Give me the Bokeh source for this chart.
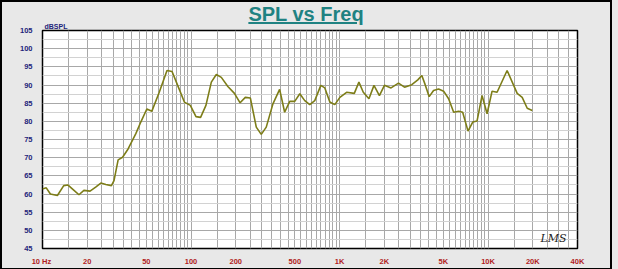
from bokeh.plotting import figure
from bokeh.models import Range1d, FixedTicker, Label, Div, InlineStyleSheet
from bokeh.layouts import column
from bokeh.embed import file_html
from bokeh.resources import INLINE

# ---- data ----
freq = [10, 10.6, 11.3, 12.6, 13.9, 14.8, 16.3, 17.6, 19.0, 20.9,
        22.8, 24.7, 26.7, 29.1, 30.3, 32.3, 34.6, 37.7, 42.5, 45.9,
        50.4, 54.5, 61.1, 68.9, 74.5, 81.3, 90.2, 98.9, 108, 116,
        126, 137, 148, 160, 177, 196, 214, 232, 251, 275,
        297, 321, 356, 395, 427, 462, 499, 540, 583, 630,
        681, 748, 796, 860, 929, 1005, 1115, 1257, 1350, 1445,
        1577, 1705, 1855, 2005, 2222, 2493, 2737, 3065, 3364, 3581,
        3770, 4012, 4295, 4643, 5020, 5424, 5866, 6340, 6745, 7328,
        7882, 8431, 9106, 9847, 10640, 11500, 13430, 15700, 16970, 18350,
        19830]
spl = [61.4, 61.7, 60.0, 59.6, 62.3, 62.5, 61.0, 59.8, 61.0, 60.8,
       61.9, 63.0, 62.6, 62.3, 63.7, 69.4, 70.1, 72.4, 76.6, 79.8,
       83.4, 82.8, 88.0, 94.0, 93.7, 89.9, 85.3, 84.4, 81.3, 81.1,
       84.4, 90.8, 92.9, 92.1, 89.6, 87.7, 85.1, 86.6, 86.4, 78.4,
       76.4, 78.4, 84.8, 88.8, 82.5, 85.5, 85.5, 87.6, 85.7, 84.6,
       85.7, 89.9, 89.2, 85.3, 84.6, 86.6, 88.0, 87.7, 90.8, 88.0,
       86.2, 89.9, 87.1, 89.9, 89.2, 90.5, 89.4, 90.1, 91.4, 92.6,
       90.1, 86.8, 88.5, 88.9, 88.3, 86.2, 82.5, 82.8, 82.5, 77.3,
       79.8, 80.1, 87.1, 82.1, 88.3, 88.0, 94.0, 87.7, 86.6, 83.6,
       83.0]

x_ticks = [10, 20, 50, 100, 200, 500, 1000, 2000, 5000, 10000, 20000, 40000]
x_labels = ["10  Hz", "20", "50", "100", "200", "500", "1K", "2K", "5K", "10K", "20K", "40K"]
y_ticks = [45, 50, 55, 60, 65, 70, 75, 80, 85, 90, 95, 100, 105]

title_text = "SPL vs Freq"
y_unit = "dBSPL"
brand = "LMS"

# ---- figure ----
BG = "#e8e8e8"
p = figure(x_axis_type="log", x_range=Range1d(10, 40000), y_range=Range1d(45, 105),
           frame_width=535, frame_height=218,
           min_border_left=40, min_border_right=33, min_border_top=2, min_border_bottom=11,
           output_backend="svg", toolbar_location=None,
           background_fill_color="white", border_fill_color=BG, margin=0)

p.outline_line_color = "black"
p.outline_line_width = 1.5

# unit caption above the frame, top-left
p.title.text = y_unit
p.title.align = "left"
p.title.offset = 2
p.title.standoff = 1
p.title.text_font = "Liberation Sans"
p.title.text_font_size = "7px"
p.title.text_font_style = "bold"
p.title.text_color = "#23237a"

# grids
grid_lines = []
for dec in [10, 100, 1000, 10000]:
    for m in [1, 1.5, 2, 2.5, 3, 3.5, 4, 4.5, 5, 5.5, 6, 6.5, 7, 7.5, 8, 8.5, 9, 9.5]:
        v = dec * m
        if v <= 40000:
            grid_lines.append(v)
p.xgrid.ticker = FixedTicker(ticks=grid_lines)
p.xgrid.grid_line_color = "#a8a8a8"
p.xgrid.grid_line_width = 1

p.ygrid.ticker = FixedTicker(ticks=y_ticks, minor_ticks=[t + 2.5 for t in y_ticks[:-1]])
p.ygrid.grid_line_color = "#a8a8a8"
p.ygrid.minor_grid_line_color = "#d2d2d2"

# axes
p.xaxis.ticker = FixedTicker(ticks=x_ticks)
p.xaxis.major_label_overrides = {t: l for t, l in zip(x_ticks, x_labels)}
p.yaxis.ticker = FixedTicker(ticks=y_ticks)
for ax in (p.xaxis, p.yaxis):
    ax.axis_line_color = None
    ax.major_tick_line_color = None
    ax.minor_tick_line_color = None
    ax.major_label_text_font = "Liberation Sans"
    ax.major_label_text_font_size = "7.5px"
    ax.major_label_text_font_style = "bold"
p.xaxis.major_label_text_color = "#b01c1c"
p.yaxis.major_label_text_color = "#23237a"
p.xaxis.major_label_standoff = 2
p.yaxis.major_label_standoff = 4

# curve
p.line(freq, spl, line_color="#7d7d18", line_width=1.6)

p.add_layout(Label(x=22500, y=45, y_offset=4, text=brand, text_baseline="bottom",
                   text_font="DejaVu Serif", text_font_size="11px",
                   text_font_style="italic", text_color="#222222"))

div_css = InlineStyleSheet(css=""":host {
  position: relative;
  z-index: 10;
  overflow: visible;
}""")

title_div = Div(
    text='<div style="width:608px;text-align:center;line-height:24px;'
         'font-family:\'Liberation Sans\', Arial, sans-serif;font-size:20px;'
         'font-weight:bold;color:#1f8282;">'
         '<span style="text-decoration:underline;">' + title_text + '</span></div>',
    width=608, height=24, margin=(0, 0, -6, 0), stylesheets=[div_css])

frame_css = InlineStyleSheet(css=""":host {
  background-color: #e8e8e8;
  border-style: solid;
  border-color: #000000;
  border-width: 2px 2px 10px 2px;
  box-shadow: 6px 0 0 0 #e8e8e8;
  gap: 0px;
}""")

layout = column(title_div, p, margin=0, stylesheets=[frame_css])

open("out.html", "w").write(file_html(layout, INLINE))
